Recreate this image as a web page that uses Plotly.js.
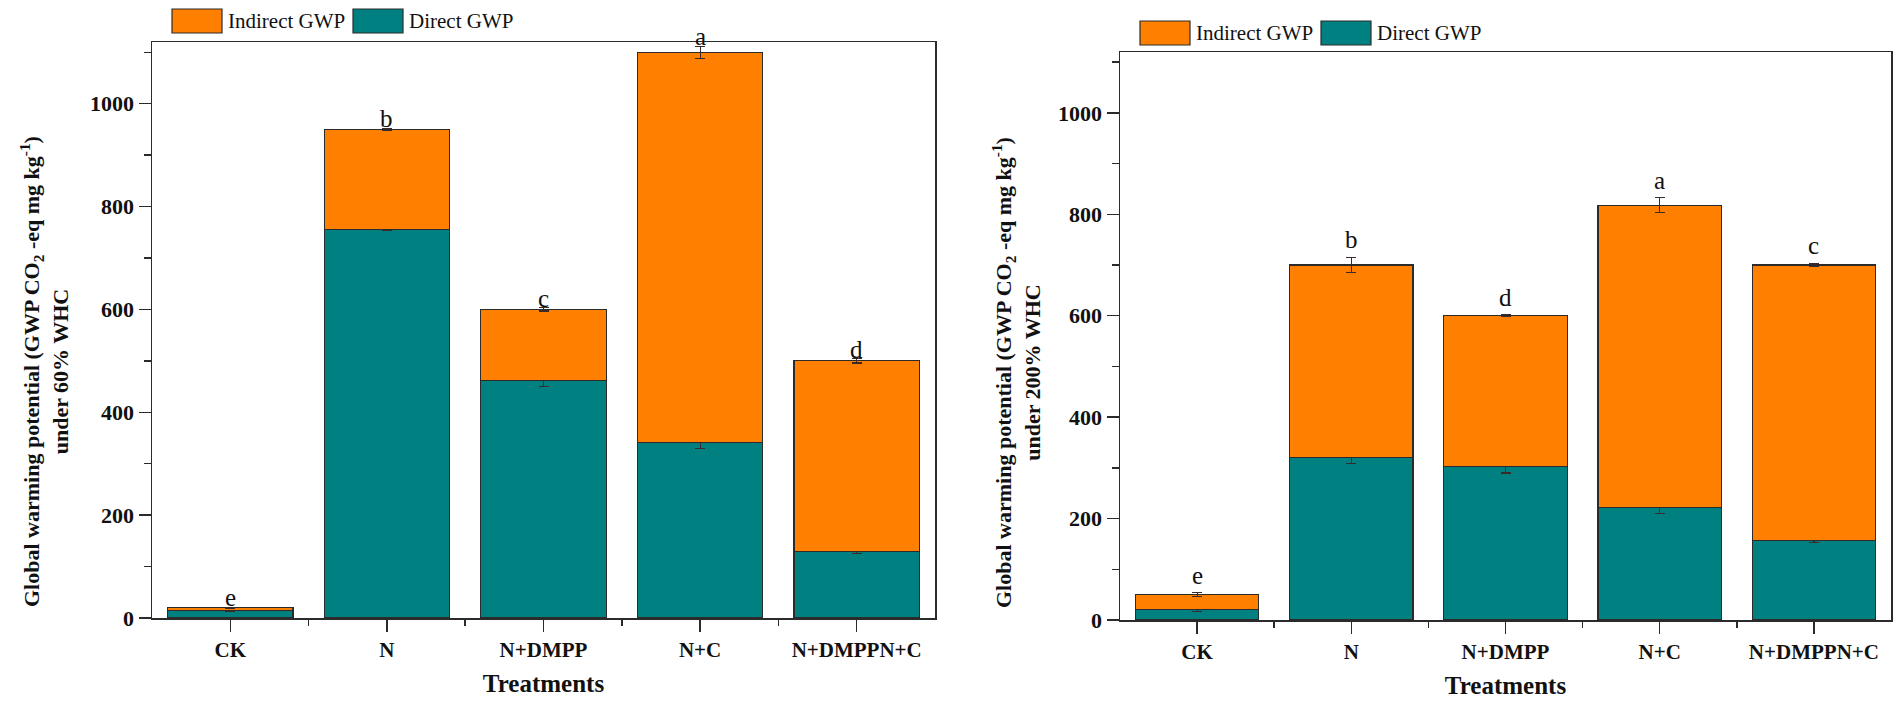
<!DOCTYPE html>
<html>
<head>
<meta charset="utf-8">
<script src="https://cdn.plot.ly/plotly-3.0.1.min.js"></script>
<style>
  html, body { margin: 0; padding: 0; background: #fff; }
  #chart { width: 1901px; height: 710px; }
</style>
</head>
<body>
<div id="chart"></div>
<script>
// treatments (same for both panels)
var categories = ['CK', 'N', 'N+DMPP', 'N+C', 'N+DMPPN+C'];

// left panel: 60% WHC
var directL = [15, 755, 462, 342, 130];
var indirectL = [5, 195, 138, 758, 370];
var errDirectL = [2, 2, 12, 12, 5];
var errTotalL = [1, 2, 3, 12, 4];
var lettersL = ['e', 'b', 'c', 'a', 'd'];

// right panel: 200% WHC
var directR = [20, 320, 302, 222, 157];
var indirectR = [30, 380, 298, 596, 543];
var errDirectR = [3, 12, 12, 12, 4];
var errTotalR = [4, 15, 2, 15, 3];
var lettersR = ['e', 'b', 'd', 'a', 'c'];

var W = 1901, H = 710;
function px(x) { return x / W; }
function py(y) { return 1 - y / H; }

var ORANGE = '#FF8000';
var TEAL = '#008080';
var EDGE = '#2b2b2b';
var SERIF = 'Liberation Serif, Times New Roman, serif';

var idx = categories.map(function (c, i) { return i; });

function barTrace(vals, errs, color, name, xa, ya) {
    return {
        type: 'bar',
        x: idx,
        y: vals,
        name: name,
        xaxis: xa,
        yaxis: ya,
        width: 0.8,
        marker: { color: color, line: { color: EDGE, width: 1.2 } },
        error_y: { type: 'data', array: errs, visible: true, color: '#3a2a2a', thickness: 1.2, width: 5 },
        showlegend: false,
        hoverinfo: 'skip'
    };
}

var data = [
    barTrace(directL, errDirectL, TEAL, 'Direct GWP', 'x', 'y'),
    barTrace(indirectL, errTotalL, ORANGE, 'Indirect GWP', 'x', 'y'),
    barTrace(directR, errDirectR, TEAL, 'Direct GWP', 'x2', 'y2'),
    barTrace(indirectR, errTotalR, ORANGE, 'Indirect GWP', 'x2', 'y2')
];

function xAxis(dom, ya) {
    return {
        domain: dom,
        anchor: ya,
        range: [-0.5, 4.5],
        tickmode: 'array',
        tickvals: idx,
        ticktext: categories,
        ticks: 'outside',
        ticklen: 12,
        tickwidth: 1.5,
        tickcolor: EDGE,
        minor: { tickmode: 'array', tickvals: [0.5, 1.5, 2.5, 3.5], ticks: 'outside', ticklen: 6, tickwidth: 1.5, tickcolor: EDGE },
        showline: true,
        mirror: true,
        linecolor: EDGE,
        linewidth: 1.5,
        showgrid: false,
        zeroline: false,
        fixedrange: true,
        tickfont: { family: SERIF, size: 21, color: '#111', weight: 'bold' },
        title: { text: 'Treatments', font: { family: SERIF, size: 25, color: '#111', weight: 'bold' }, standoff: 14 }
    };
}

function yAxis(dom, xa) {
    return {
        domain: dom,
        anchor: xa,
        range: [0, 1120],
        dtick: 200,
        ticks: 'outside',
        ticklen: 12,
        tickwidth: 1.5,
        tickcolor: EDGE,
        minor: { dtick: 100, ticks: 'outside', ticklen: 7, tickwidth: 1.5, tickcolor: EDGE },
        showline: true,
        mirror: true,
        linecolor: EDGE,
        linewidth: 1.5,
        showgrid: false,
        zeroline: false,
        fixedrange: true,
        tickfont: { family: SERIF, size: 22, color: '#111', weight: 'bold' }
    };
}

var annotations = [];
function addLetters(letters, direct, indirect, errs, xa, ya, shift) {
    letters.forEach(function (t, i) {
        annotations.push({
            x: idx[i], y: direct[i] + indirect[i] + errs[i],
            xref: xa, yref: ya,
            text: t, showarrow: false,
            yanchor: 'bottom', yshift: shift,
            font: { family: SERIF, size: 25, color: '#111' }
        });
    });
}
addLetters(lettersL, directL, indirectL, errTotalL, 'x', 'y', -6);
addLetters(lettersR, directR, indirectR, errTotalR, 'x2', 'y2', 2);

// y titles, two lines, rotated, placed like the original figure
function addYTitle(cx, whc) {
    annotations.push({
        xref: 'paper', yref: 'paper', x: px(cx), y: py(372),
        xanchor: 'center', yanchor: 'middle', textangle: -90, showarrow: false,
        text: 'Global warming potential (GWP CO<sub>2</sub> -eq mg kg<sup>-1</sup>)<br>under ' + whc + ' WHC',
        font: { family: SERIF, size: 22, color: '#111', weight: 'bold' }
    });
}
addYTitle(44, '60%');
addYTitle(1016, '200%');

// hand-drawn legends above each panel
var shapes = [];
function addLegend(x0, y0) {
    var items = [[ORANGE, 'Indirect GWP', 0], [TEAL, 'Direct GWP', 181]];
    items.forEach(function (it) {
        var bx = x0 + it[2];
        shapes.push({
            type: 'rect', xref: 'paper', yref: 'paper',
            x0: px(bx), x1: px(bx + 50), y0: py(y0 + 24), y1: py(y0),
            fillcolor: it[0], line: { color: EDGE, width: 1.2 }
        });
        annotations.push({
            xref: 'paper', yref: 'paper', x: px(bx + 54), y: py(y0 + 12),
            xanchor: 'left', yanchor: 'middle', showarrow: false,
            text: it[1], font: { family: SERIF, size: 21, color: '#111' }
        });
    });
}
addLegend(172, 9);
addLegend(1140, 21);

var layout = {
    width: W,
    height: H,
    margin: { l: 0, r: 0, t: 0, b: 0 },
    paper_bgcolor: '#fff',
    plot_bgcolor: '#fff',
    barmode: 'stack',
    showlegend: false,
    xaxis: xAxis([px(152), px(935)], 'y'),
    yaxis: yAxis([py(618), py(42)], 'x'),
    xaxis2: xAxis([px(1120), px(1891)], 'y2'),
    yaxis2: yAxis([py(620), py(52)], 'x2'),
    annotations: annotations,
    shapes: shapes
};

Plotly.newPlot('chart', data, layout, { displayModeBar: false, staticPlot: true });
</script>
</body>
</html>
